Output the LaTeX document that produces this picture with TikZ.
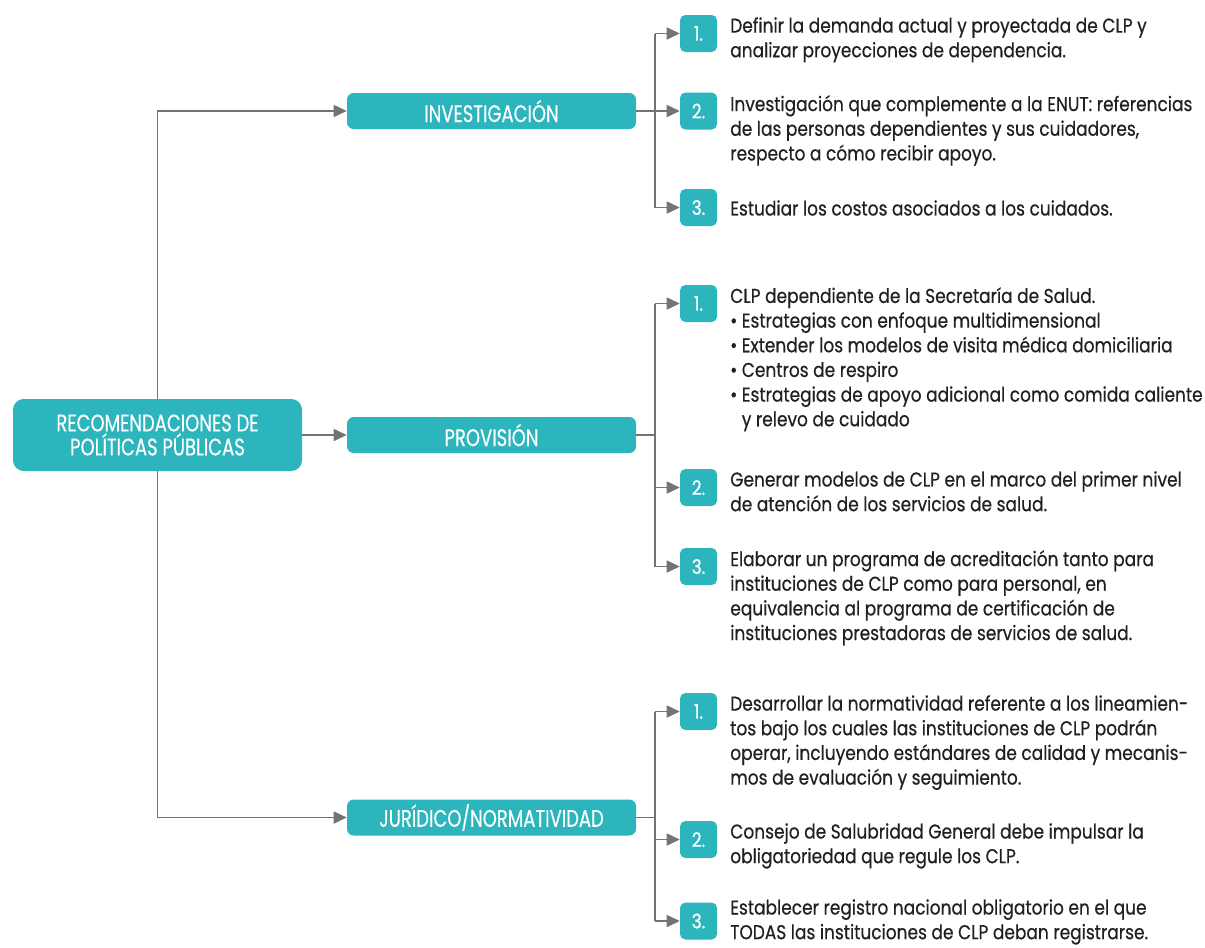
\documentclass[tikz,border=0pt]{standalone}
\usepackage{fontspec}
\setmainfont{Poppins}[FakeStretch=0.85, FakeBold=0.5]
\newfontfamily\capsfont{Poppins}[FakeStretch=0.75, FakeBold=0.3]
\usetikzlibrary{arrows.meta}
\definecolor{boxteal}{HTML}{2DB5BD}
\definecolor{linegray}{HTML}{737373}
\definecolor{bodytext}{HTML}{231F20}
\tikzstyle{rootbox}=[rounded corners=8, fill=boxteal, text=white, minimum width=216.75pt, minimum height=54pt, align=center, font=\capsfont\fontsize{18}{18}\selectfont]
\tikzstyle{catbox}=[rounded corners=5, fill=boxteal, text=white, minimum width=216.75pt, minimum height=27pt, inner sep=0, font=\capsfont\fontsize{18}{18}\selectfont]
\tikzstyle{numbox}=[rounded corners=4, fill=boxteal, text=white, minimum size=27.75pt, inner sep=0, font=\fontsize{15}{18}\selectfont]
\tikzstyle{itemtext}=[anchor=north west, inner sep=0, align=left, text=bodytext, font=\fontsize{15}{18.5}\selectfont]
\tikzstyle{link}=[linegray, line width=1.2pt]
\tikzstyle{arrowlink}=[link, -{Triangle[length=9.75pt, width=9pt]}]

\begin{document}
\begin{tikzpicture}[x=0.75pt, y=-0.75pt]
  \useasboundingbox (0,0) rectangle (1205,947);

  % root and the three branches
  \node[rootbox] (root) at (157.5,435) {RECOMENDACIONES DE\\POLÍTICAS PÚBLICAS};
  \node[catbox] (inv) at (491.5,111) {INVESTIGACIÓN};
  \node[catbox] (prov) at (491.5,435) {PROVISIÓN};
  \node[catbox] (jur) at (491.5,817.5) {JURÍDICO/NORMATIVIDAD};
  \draw[arrowlink] (root.north) |- (inv.west);
  \draw[arrowlink] (root.east) -- (prov.west);
  \draw[arrowlink] (root.south) |- (jur.west);

  % investigacion
  \coordinate (invbus) at (655,111);
  \node[numbox] (inv1) at (698.5,33.5) {1.};
  \node[numbox] (inv2) at (698.5,111) {2.};
  \node[numbox] (inv3) at (698.5,207.5) {3.};
  \draw[link] (inv.east) -- (invbus);
  \draw[link] (invbus |- inv1) -- (invbus |- inv3);
  \draw[arrowlink] (invbus |- inv1) -- (inv1.west);
  \draw[arrowlink] (invbus |- inv2) -- (inv2.west);
  \draw[arrowlink] (invbus |- inv3) -- (inv3.west);
  \node[itemtext] (inv1t) at (730,17) {Definir la demanda actual y proyectada de CLP y\\analizar proyecciones de dependencia.};
  \node[itemtext] (inv2t) at (730,95) {Investigación que complemente a la ENUT: referencias\\de las personas dependientes y sus cuidadores,\\respecto a cómo recibir apoyo.};
  \node[itemtext] (inv3t) at (730,200) {Estudiar los costos asociados a los cuidados.};

  % provision
  \coordinate (provbus) at (655,435);
  \node[numbox] (prov1) at (698.5,303.5) {1.};
  \node[numbox] (prov2) at (698.5,487.5) {2.};
  \node[numbox] (prov3) at (698.5,566.5) {3.};
  \draw[link] (prov.east) -- (provbus);
  \draw[link] (provbus |- prov1) -- (provbus |- prov3);
  \draw[arrowlink] (provbus |- prov1) -- (prov1.west);
  \draw[arrowlink] (provbus |- prov2) -- (prov2.west);
  \draw[arrowlink] (provbus |- prov3) -- (prov3.west);
  \node[itemtext] (prov1t) at (730,287) {CLP dependiente de la Secretaría de Salud.\\• Estrategias con enfoque multidimensional\\• Extender los modelos de visita médica domiciliaria\\• Centros de respiro\\• Estrategias de apoyo adicional como comida caliente\\\phantom{• }y relevo de cuidado};
  \node[itemtext] (prov2t) at (730,471) {Generar modelos de CLP en el marco del primer nivel\\de atención de los servicios de salud.};
  \node[itemtext] (prov3t) at (730,550) {Elaborar un programa de acreditación tanto para\\instituciones de CLP como para personal, en\\equivalencia al programa de certificación de\\instituciones prestadoras de servicios de salud.};

  % juridico
  \coordinate (jurbus) at (655,817.5);
  \node[numbox] (jur1) at (698.5,711.5) {1.};
  \node[numbox] (jur2) at (698.5,839.5) {2.};
  \node[numbox] (jur3) at (698.5,921) {3.};
  \draw[link] (jur.east) -- (jurbus);
  \draw[link] (jurbus |- jur1) -- (jurbus |- jur3);
  \draw[arrowlink] (jurbus |- jur1) -- (jur1.west);
  \draw[arrowlink] (jurbus |- jur2) -- (jur2.west);
  \draw[arrowlink] (jurbus |- jur3) -- (jur3.west);
  \node[itemtext] (jur1t) at (730,695) {Desarrollar la normatividad referente a los lineamien-\\tos bajo los cuales las instituciones de CLP podrán\\operar, incluyendo estándares de calidad y mecanis-\\mos de evaluación y seguimiento.};
  \node[itemtext] (jur2t) at (730,823) {Consejo de Salubridad General debe impulsar la\\obligatoriedad que regule los CLP.};
  \node[itemtext] (jur3t) at (730,899) {Establecer registro nacional obligatorio en el que\\TODAS las instituciones de CLP deban registrarse.};
\end{tikzpicture}
\end{document}
